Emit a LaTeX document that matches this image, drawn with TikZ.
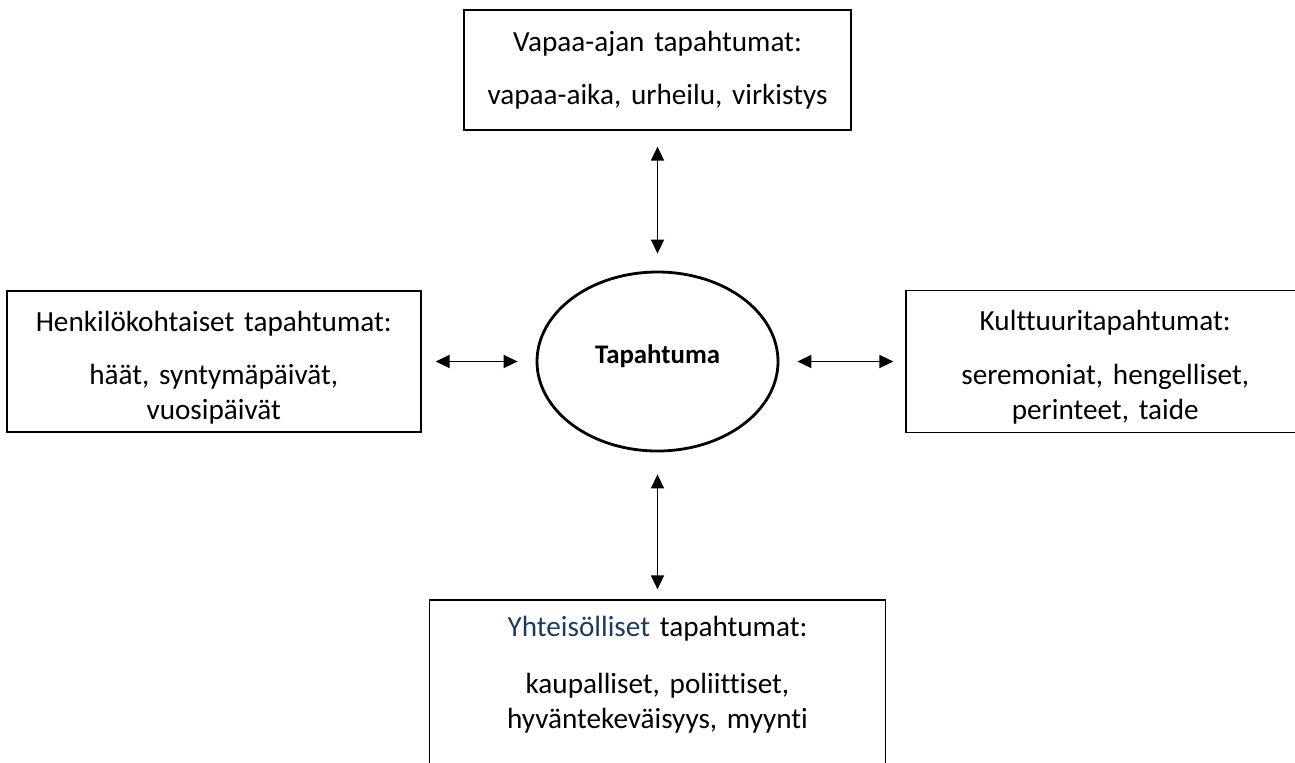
\documentclass[tikz,border=0pt]{standalone}
\usepackage{fontspec}
\setmainfont{Carlito}[Ligatures=NoCommon]
\usepackage{tikz}
\usetikzlibrary{shapes.geometric}
\usetikzlibrary{positioning}
\usetikzlibrary{arrows.meta}
\definecolor{navyword}{RGB}{31,56,100}
\def\boxtext{\fontsize{14.6}{17.5}\selectfont}
\def\eventtext{\fontsize{13.4}{16}\selectfont\bfseries}
\def\topline{\rule{0pt}{16pt}}

\begin{document}
\begin{tikzpicture}[>={Triangle[length=7pt,width=6.5pt]}]

    \tikzstyle{event-s}    = [draw, line width=1.4pt, ellipse, minimum width=120.5pt, minimum height=89.5pt, text depth=7pt, font=\eventtext];
    \tikzstyle{group-box}  = [draw, line width=0.85pt, rectangle, inner xsep=6pt, inner ysep=6pt, align=center, font=\boxtext];
    \tikzstyle{link-arrow} = [line width=0.8pt, <->];

    % Frame of the picture
    \useasboundingbox (0,0) rectangle (647.5pt,-381pt);
    \clip (0,0) rectangle (647.5pt,-381pt);

    %
    % Central event
    %
    \node[event-s] (event) at (328.75pt,-180.75pt) {Tapahtuma};

    %
    % Event groups
    %
    \node[group-box, text width=181.5pt, minimum height=60pt] (group-leisure) [above=70pt of event]
        {Vapaa-ajan tapahtumat:\\[9pt] vapaa-aika, urheilu, virkistys};
    \node[group-box, text width=195pt, minimum height=70.5pt, inner ysep=2pt] (group-personal) [left=57pt of event]
        {\topline Henkilökohtaiset tapahtumat:\\[9pt] häät, syntymäpäivät,\\ vuosipäivät};
    \node[group-box, text width=187pt, minimum height=71pt, inner ysep=2pt] (group-culture) [right=63pt of event]
        {\topline Kulttuuritapahtumat:\\[9.5pt] seremoniat, hengelliset,\\ perinteet, taide};
    \node[group-box, text width=216pt, text depth=70pt, inner ysep=8pt] (group-community) [below=73.5pt of event]
        {\textcolor{navyword}{Yhteisölliset} tapahtumat:\\[11pt] kaupalliset, poliittiset,\\ hyväntekeväisyys, myynti};

    % Arrows between groups and event
    \draw[link-arrow, shorten <=8pt, shorten >=8.5pt] (group-leisure.south)   -- (event.north);
    \draw[link-arrow, shorten <=7pt, shorten >=9pt]   (group-personal.east)   -- (event.west);
    \draw[link-arrow, shorten <=9pt, shorten >=6pt]   (event.east)            -- (group-culture.west);
    \draw[link-arrow, shorten <=11pt, shorten >=5pt]  (event.south)           -- (group-community.north);
\end{tikzpicture}
\end{document}
